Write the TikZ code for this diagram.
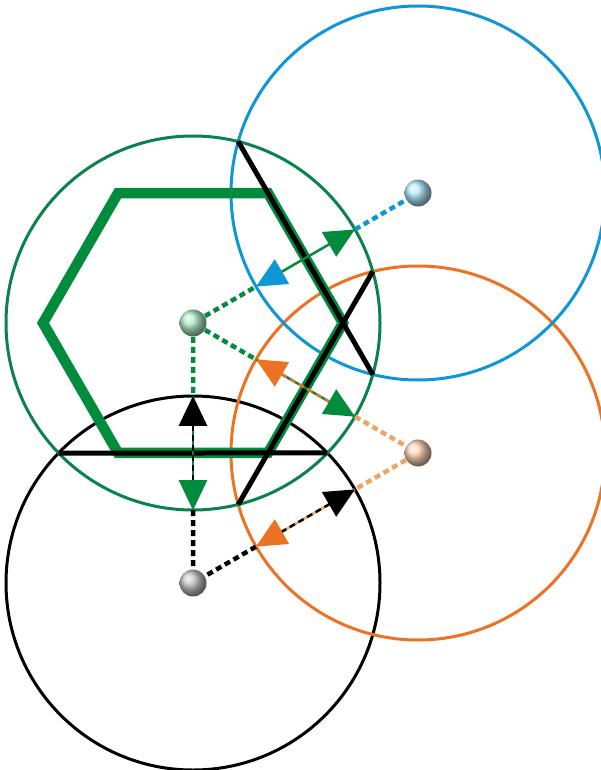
\documentclass[tikz,border=0pt]{standalone}
\usetikzlibrary{arrows.meta,calc,intersections}

\definecolor{ringgreen}{RGB}{10,130,75}
\definecolor{hexgreen}{RGB}{0,140,60}
\definecolor{ringblue}{RGB}{15,150,215}
\definecolor{ringorange}{RGB}{235,115,35}
\definecolor{dashorange}{RGB}{235,165,100}
\definecolor{ballblue}{RGB}{175,232,252}
\definecolor{ballgreen}{RGB}{175,236,198}
\definecolor{ballorange}{RGB}{255,212,182}
\definecolor{ballgray}{RGB}{195,195,195}

\tikzset{
  ring/.style={line width=0.06cm},
  chord/.style={line width=0.1cm, black},
  dashline/.style={line width=0.09cm, dash pattern=on 0.12cm off 0.08cm},
  midline/.style={line width=0.05cm},
  ball/.style={circle, minimum size=0.54cm, inner sep=0pt, shading=ball},
  bigtip/.tip={Triangle[length=0.6cm, width=0.56cm]},
  >=bigtip
}

\begin{document}
\begin{tikzpicture}[x=0.02cm, y=-0.02cm]
    % Radius of the circles and the share of a center distance it covers
    \def\rad{187}
    \def\reach{0.72}

    \useasboundingbox (0,0) rectangle (601,770);

    % Centers of the four cells
    \coordinate (G) at (193,323);
    \coordinate (B) at (418,193);
    \coordinate (O) at (418,453);
    \coordinate (K) at (193,583);

    % Points where each circle crosses the line to a neighbour
    \coordinate (bg) at ($(B)!\reach!(G)$);
    \coordinate (gb) at ($(G)!\reach!(B)$);
    \coordinate (og) at ($(O)!\reach!(G)$);
    \coordinate (go) at ($(G)!\reach!(O)$);
    \coordinate (kg) at ($(K)!\reach!(G)$);
    \coordinate (gk) at ($(G)!\reach!(K)$);
    \coordinate (ko) at ($(K)!\reach!(O)$);
    \coordinate (ok) at ($(O)!\reach!(K)$);

    % The four circles
    \draw[ring, black, name path=kcirc] (K) circle[radius=\rad];
    \draw[ring, ringorange, name path=ocirc] (O) circle[radius=\rad];
    \draw[ring, ringblue, name path=bcirc] (B) circle[radius=\rad];
    \draw[ring, ringgreen, name path=gcirc] (G) circle[radius=\rad];

    % Thick hexagon round the green center
    \draw[hexgreen, line width=0.21cm, line join=miter]
        ($(G)+(0:150)$) -- ($(G)+(60:150)$) -- ($(G)+(120:150)$)
        -- ($(G)+(180:150)$) -- ($(G)+(240:150)$) -- ($(G)+(300:150)$) -- cycle;

    % Chords where the green circle meets the others
    \path[name intersections={of=gcirc and bcirc, by={gb1,gb2}}];
    \path[name intersections={of=gcirc and ocirc, by={go1,go2}}];
    \path[name intersections={of=gcirc and kcirc, by={gk1,gk2}}];
    \draw[chord] (gb1) -- (gb2);
    \draw[chord] (go1) -- (go2);
    \draw[chord] (gk1) -- (gk2);

    % Balls at the centers
    \node[ball, ball color=ballgreen] (gball) at (G) {};
    \node[ball, ball color=ballblue] (bball) at (B) {};
    \node[ball, ball color=ballorange] (oball) at (O) {};
    \node[ball, ball color=ballgray] (kball) at (K) {};

    % Green and blue
    \draw[dashline, hexgreen] (gball) -- (bg);
    \draw[dashline, ringblue] (gb) -- (bball);
    \draw[midline, hexgreen, {bigtip[color=ringblue]}->] (bg) -- (gb);

    % Green and orange
    \draw[dashline, hexgreen] (gball) -- (og);
    \draw[dashline, dashorange] (go) -- (oball);
    \draw[midline, hexgreen] (og) -- (go);
    \draw[midline, ringorange, dash pattern=on 0.12cm off 0.08cm,
        <-{bigtip[color=hexgreen]}] (og) -- (go);

    % Green and black
    \draw[dashline, hexgreen] (gball) -- (kg);
    \draw[dashline, black] (gk) -- (kball);
    \draw[midline, hexgreen] (kg) -- (gk);
    \draw[midline, black, dash pattern=on 0.12cm off 0.08cm,
        <-{bigtip[color=hexgreen]}] (kg) -- (gk);

    % Orange and black
    \draw[dashline, dashorange] (oball) -- (ko);
    \draw[dashline, black] (ok) -- (kball);
    \draw[midline, dashorange] (ko) -- (ok);
    \draw[midline, black, dash pattern=on 0.12cm off 0.08cm,
        <-{bigtip[color=ringorange]}] (ko) -- (ok);
\end{tikzpicture}
\end{document}
